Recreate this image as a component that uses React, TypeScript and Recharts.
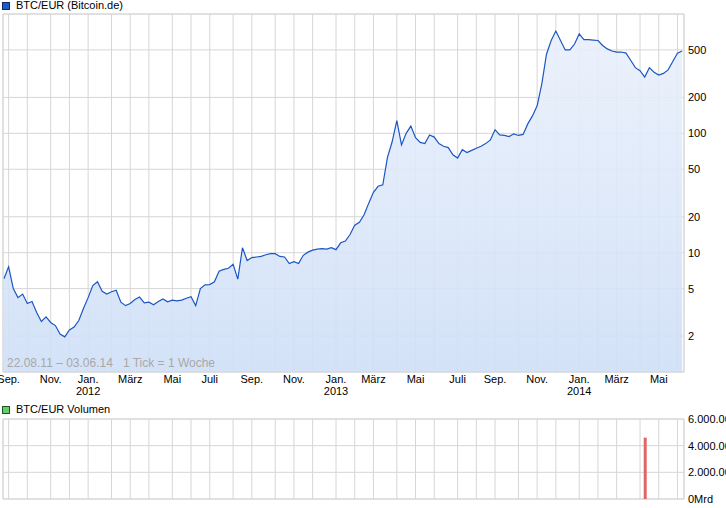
import { Area, AreaChart, Bar, BarChart, CartesianGrid, ReferenceArea, XAxis, YAxis } from "recharts";

// weekly closing price BTC/EUR, 22.08.11 .. 03.06.14
const prices = [
  6.05, 7.6, 5.0, 4.2, 4.5, 3.75, 3.9, 3.15, 2.65, 2.9,
  2.6, 2.45, 2.08, 1.97, 2.25, 2.38, 2.7, 3.4, 4.2, 5.3,
  5.7, 4.75, 4.5, 4.7, 4.85, 3.85, 3.6, 3.75, 4.05, 4.25,
  3.8, 3.85, 3.66, 3.9, 4.1, 3.88, 4.0, 3.95, 4.0, 4.15,
  4.27, 3.6, 5.0, 5.38, 5.4, 5.7, 7.0, 7.25, 7.4, 8.0,
  6.0, 11.0, 8.6, 9.1, 9.2, 9.3, 9.6, 9.8, 9.8, 9.3,
  9.2, 8.1, 8.4, 8.1, 9.5, 10.1, 10.5, 10.7, 10.8, 10.7,
  11.0, 10.6, 12.1, 12.5, 14.2, 17.0, 18.0, 20.8, 26, 32,
  36, 37, 63, 85, 128, 80, 100, 115, 92, 84,
  82, 97, 93, 82, 78, 76, 66, 62, 73, 69,
  72, 75, 78, 82, 88, 107, 97, 96, 94, 99,
  96, 98, 120, 140, 170, 260, 460, 600, 720, 600,
  500, 500, 560, 680, 610, 610, 605, 600, 545, 510,
  490, 480, 480, 470, 410, 355, 335, 296, 355, 325,
  308, 318, 340, 400, 470, 490,
];

// week index of each month start (Sep 2011 .. Jun 2014)
const monthWeeks = [1, 5, 10, 14, 18, 23, 27, 31, 36, 40, 44, 49, 53, 58, 62, 66, 71, 75, 79, 84, 88, 92, 97, 101, 105, 110, 114, 118, 123, 127, 131, 136, 140, 144];
const monthLabels = [
  "Sep.", "", "Nov.", "", "Jan.", "", "März", "", "Mai", "", "Juli", "",
  "Sep.", "", "Nov.", "", "Jan.", "", "März", "", "Mai", "", "Juli", "",
  "Sep.", "", "Nov.", "", "Jan.", "", "März", "", "Mai", "",
];
const yearWeeks = [18, 71, 123];
const yearLabels = ["2012", "2013", "2014"];

const priceTicks = [1, 2, 5, 10, 20, 50, 100, 200, 500, 1000];

const volumeWeeks = [137];
const volumeValues = [4600];
const volumeTicks = [0, 2000, 4000, 6000];

const priceData = prices.map((price, w) => ({ w, price }));
const volumeData = volumeWeeks.map((w, i) => ({ w, volume: volumeValues[i] }));

const FONT = '"Liberation Sans", Arial, sans-serif';
const X_DOMAIN: [number, number] = [-0.2, 145.4];
const GRID = "#d6d6d6";

function MonthTick({ x, y, payload }: any) {
  const i = monthWeeks.indexOf(payload.value);
  const label = monthLabels[i];
  const yi = yearWeeks.indexOf(payload.value);
  return (
    <g fontFamily={FONT} fontSize={11} fill="#000">
      {label ? (
        <text x={x} y={y + 11} textAnchor="middle">
          {label}
        </text>
      ) : null}
      {yi >= 0 ? (
        <text x={x} y={y + 23} textAnchor="middle">
          {yearLabels[yi]}
        </text>
      ) : null}
    </g>
  );
}

function EmptyTick() {
  return <g />;
}

function PriceTick({ x, y, payload }: any) {
  const v = payload.value;
  if (v === 1 || v === 1000) return <g />;
  return (
    <text x={x + 4} y={y + 4} fontFamily={FONT} fontSize={11} fill="#000">
      {v}
    </text>
  );
}

function fmtVolume(v: number) {
  if (v === 0) return "0Mrd";
  return String(v * 1000).replace(/\B(?=(\d{3})+(?!\d))/g, ".");
}

function VolumeTick({ x, y, payload }: any) {
  return (
    <text x={x + 4} y={y + 4} fontFamily={FONT} fontSize={11} fill="#000">
      {fmtVolume(payload.value)}
    </text>
  );
}

function LegendBox({ color, border }: { color: string; border: string }) {
  return (
    <span
      style={{
        position: "absolute",
        left: 2,
        top: 2,
        width: 6,
        height: 6,
        background: color,
        border: `1px solid ${border}`,
      }}
    />
  );
}

export default function App() {
  return (
    <div
      style={{
        position: "absolute",
        left: 0,
        top: 0,
        width: 726,
        height: 508,
        overflow: "hidden",
        background: "#fff",
        fontFamily: FONT,
      }}
    >
      <div style={{ position: "absolute", left: 0, top: 0, width: 300, height: 13 }}>
        <LegendBox color="#1f5bc6" border="#0b2a66" />
        <span style={{ position: "absolute", left: 16, top: -1, fontSize: 11, lineHeight: "13px", color: "#000" }}>
          BTC/EUR (Bitcoin.de)
        </span>
      </div>

      <div style={{ position: "absolute", left: 0, top: 0 }}>
        <AreaChart width={726} height={400} data={priceData} margin={{ top: 14, right: 0, bottom: 0, left: 3 }}>
          <defs>
            <linearGradient id="priceFill" x1="0" y1="0" x2="0" y2="1">
              <stop offset="0%" stopColor="#e9f0fb" stopOpacity={0.9} />
              <stop offset="100%" stopColor="#cfdff7" stopOpacity={0.9} />
            </linearGradient>
          </defs>
          <CartesianGrid stroke={GRID} />
          <XAxis
            dataKey="w"
            type="number"
            domain={X_DOMAIN}
            allowDataOverflow
            ticks={monthWeeks}
            interval={0}
            tick={<MonthTick />}
            tickLine={false}
            axisLine={false}
            tickSize={0}
            tickMargin={0}
            height={28}
          />
          <YAxis
            orientation="right"
            scale="log"
            domain={[1, 1000]}
            allowDataOverflow
            ticks={priceTicks}
            interval={0}
            tick={<PriceTick />}
            tickLine={false}
            axisLine={false}
            tickSize={0}
            tickMargin={0}
            width={42}
          />
          <Area
            type="linear"
            dataKey="price"
            stroke="#1c56c4"
            strokeWidth={1.2}
            fill="url(#priceFill)"
            fillOpacity={1}
            baseValue={1}
            dot={false}
            activeDot={false}
            isAnimationActive={false}
          />
          <ReferenceArea x1={X_DOMAIN[0]} x2={X_DOMAIN[1]} y1={1} y2={1000} fill="none" stroke={GRID} />
        </AreaChart>
      </div>

      <div
        style={{
          position: "absolute",
          left: 7,
          top: 356,
          fontSize: 12,
          lineHeight: "14px",
          color: "#a8a8a8",
          whiteSpace: "pre",
        }}
      >
        {"22.08.11 – 03.06.14   1 Tick = 1 Woche"}
      </div>

      <div style={{ position: "absolute", left: 0, top: 404, width: 300, height: 13 }}>
        <LegendBox color="#66cc66" border="#1d5a1d" />
        <span style={{ position: "absolute", left: 16, top: -1, fontSize: 11, lineHeight: "13px", color: "#000" }}>
          BTC/EUR Volumen
        </span>
      </div>

      <div style={{ position: "absolute", left: 0, top: 400 }}>
        <BarChart width={780} height={108} data={volumeData} margin={{ top: 19, right: 0, bottom: 9, left: 3 }}>
          <CartesianGrid stroke={GRID} />
          <XAxis
            dataKey="w"
            type="number"
            domain={X_DOMAIN}
            allowDataOverflow
            ticks={monthWeeks}
            interval={0}
            tick={<EmptyTick />}
            tickLine={false}
            axisLine={false}
            tickSize={0}
            tickMargin={0}
            height={0}
          />
          <YAxis
            orientation="right"
            domain={[0, 6000]}
            ticks={volumeTicks}
            interval={0}
            tick={<VolumeTick />}
            tickLine={false}
            axisLine={false}
            tickSize={0}
            tickMargin={0}
            width={96}
          />
          <ReferenceArea x1={X_DOMAIN[0]} x2={X_DOMAIN[1]} y1={0} y2={6000} fill="none" stroke={GRID} />
          <Bar dataKey="volume" fill="#e06666" barSize={3} isAnimationActive={false} />
        </BarChart>
      </div>
    </div>
  );
}
